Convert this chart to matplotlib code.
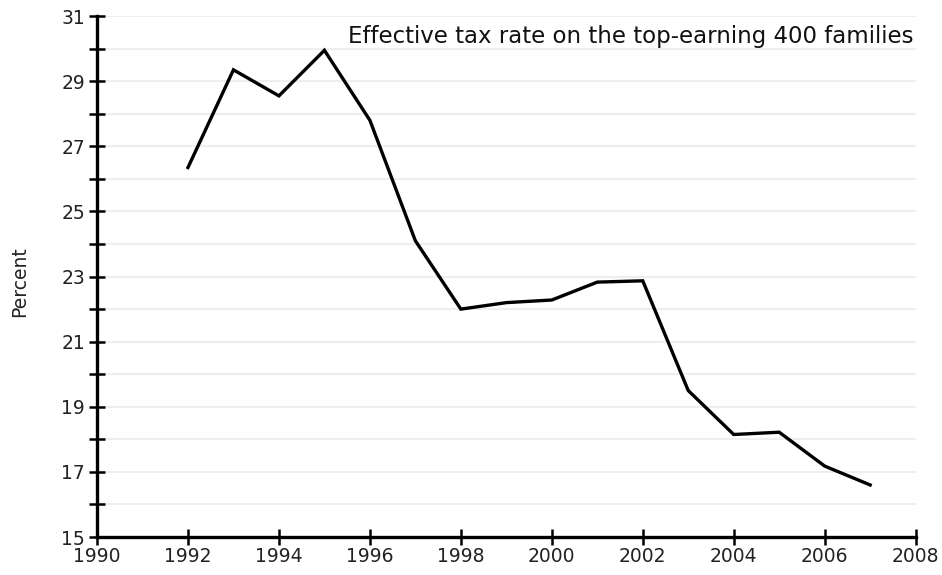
import numpy as np
import matplotlib.pyplot as plt

# effective tax rate, top 400 families
years = [1992, 1993, 1994, 1995, 1996, 1997, 1998, 1999, 2000,
         2001, 2002, 2003, 2004, 2005, 2006, 2007]
rate = [26.35, 29.35, 28.55, 29.95, 27.8, 24.1, 22.0, 22.2, 22.28,
        22.83, 22.87, 19.5, 18.15, 18.22, 17.18, 16.6]

x_ticks = list(range(1990, 2009, 2))
y_ticks = list(range(15, 32, 2))

fig = plt.figure(figsize=(9.42, 5.75), dpi=100)
ax = fig.add_axes([0.103, 0.066, 0.869, 0.906])

# light horizontal grid every 1 percent
for v in range(15, 32):
    ax.axhline(v, color='#eeeeee', lw=1.5, zorder=0)

ax.plot(years, rate, color='black', lw=2.4, solid_joinstyle='miter', zorder=3)

ax.set_xlim(1990, 2008)
ax.set_ylim(15, 31)
ax.set_xticks(x_ticks)
ax.set_yticks(y_ticks)
ax.set_yticks(range(16, 31, 2), minor=True)
ax.tick_params(axis='both', which='both', direction='inout', length=11, width=1.8,
               labelsize=13.5, labelcolor='#222222')
ax.tick_params(axis='x', pad=2)
ax.tick_params(axis='y', pad=3)

for s in ['top', 'right']:
    ax.spines[s].set_visible(False)
for s in ['left', 'bottom']:
    ax.spines[s].set_linewidth(2.4)

ax.set_ylabel('Percent', fontsize=13.5, color='#222222', labelpad=18)
ax.yaxis.set_label_coords(-0.083, 0.49)
ax.text(0.997, 0.96, 'Effective tax rate on the top-earning 400 families',
        transform=ax.transAxes, ha='right', va='center', fontsize=16.5,
        color='#111111')

fig.savefig('out.png', dpi=100)
